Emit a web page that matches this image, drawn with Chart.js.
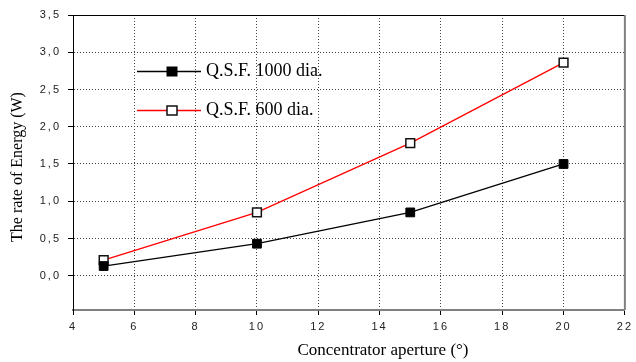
<!DOCTYPE html>
<html>
<head>
<meta charset="utf-8">
<script src="https://cdn.jsdelivr.net/npm/chart.js@4/dist/chart.umd.min.js"></script>
<style>
  html, body { margin: 0; padding: 0; background: #fff; }
  #wrap { width: 636px; height: 362px; }
</style>
</head>
<body>
<div id="wrap"><canvas id="grafico" width="636" height="362"></canvas></div>
<script>
// dados
const aberturas = [5, 10, 15, 20];
const energia1000 = [0.13, 0.43, 0.85, 1.50];
const energia600 = [0.21, 0.85, 1.78, 2.86];
const xTicks = [4, 6, 8, 10, 12, 14, 16, 18, 20, 22];
const yTicks = [0, 0.5, 1, 1.5, 2, 2.5, 3, 3.5];
const nomesSeries = ["Q.S.F. 1000 dia.", "Q.S.F. 600 dia."];
const tituloX = "Concentrator aperture (°)";
const tituloY = "The rate of Energy (W)";

const SERIF = "'Liberation Serif', 'Times New Roman', serif";

// bordas, legenda e títulos dos eixos
const extras = {
  id: "extras",
  beforeDraw(chart) {
    chart.ctx.letterSpacing = "2px";
  },
  beforeDatasetsDraw(chart) {
    chart.ctx.letterSpacing = "0px";
  },
  afterDraw(chart) {
    const ctx = chart.ctx;
    const a = chart.chartArea;
    ctx.save();
    ctx.letterSpacing = "0px";

    // borda de cima
    ctx.strokeStyle = "#000";
    ctx.lineWidth = 1;
    ctx.beginPath();
    ctx.moveTo(a.left, a.top + 0.5);
    ctx.lineTo(a.right, a.top + 0.5);
    ctx.stroke();

    // borda da direita
    ctx.strokeStyle = "#808080";
    ctx.lineWidth = 2;
    ctx.beginPath();
    ctx.moveTo(a.right, a.top);
    ctx.lineTo(a.right, a.bottom);
    ctx.stroke();

    // legenda
    const linhas = [71.5, 110.5];
    chart.data.datasets.forEach((ds, i) => {
      const y = linhas[i];
      ctx.strokeStyle = ds.borderColor;
      ctx.lineWidth = 1.5;
      ctx.beginPath();
      ctx.moveTo(137, y);
      ctx.lineTo(201, y);
      ctx.stroke();
      ctx.fillStyle = ds.pointBackgroundColor;
      ctx.strokeStyle = ds.pointBorderColor;
      ctx.lineWidth = ds.pointBorderWidth;
      ctx.fillRect(167, y - 4.5, 10, 9);
      ctx.strokeRect(167, y - 4.5, 10, 9);
      ctx.fillStyle = "#000";
      ctx.font = "18px " + SERIF;
      ctx.textAlign = "left";
      ctx.textBaseline = "middle";
      ctx.fillText(ds.label, 206, y);
    });

    // títulos dos eixos
    ctx.fillStyle = "#000";
    ctx.font = "17px " + SERIF;
    ctx.textAlign = "center";
    ctx.textBaseline = "middle";
    ctx.fillText(tituloX, 383, 351);

    ctx.font = "16px " + SERIF;
    ctx.translate(18, 167);
    ctx.rotate(-Math.PI / 2);
    ctx.fillText(tituloY, 0, 0);
    ctx.restore();
  }
};

function pontos(ys) {
  return aberturas.map((x, i) => ({ x: x, y: ys[i] }));
}

function corGrade(bordas) {
  return c => (c.tick && bordas.includes(c.tick.value)) ? "rgba(0,0,0,0)" : "#444";
}

new Chart(document.getElementById("grafico"), {
  type: "line",
  data: {
    datasets: [
      {
        label: nomesSeries[0],
        data: pontos(energia1000),
        borderColor: "#000",
        borderWidth: 1.3,
        pointStyle: "rect",
        pointRadius: 6.2,
        pointBackgroundColor: "#000",
        pointBorderColor: "#000",
        pointBorderWidth: 1
      },
      {
        label: nomesSeries[1],
        data: pontos(energia600),
        borderColor: "#ff0000",
        borderWidth: 1.3,
        pointStyle: "rect",
        pointRadius: 6.2,
        pointBackgroundColor: "#fff",
        pointBorderColor: "#111",
        pointBorderWidth: 1.5
      }
    ]
  },
  options: {
    responsive: false,
    animation: false,
    layout: { padding: { top: 15, right: 6, left: 0, bottom: 0 } },
    plugins: {
      legend: { display: false },
      tooltip: { enabled: false }
    },
    scales: {
      x: {
        type: "linear",
        min: 4,
        max: 22,
        afterBuildTicks: s => { s.ticks = xTicks.map(v => ({ value: v })); },
        afterFit: s => { s.height = 52; },
        grid: { color: corGrade([4, 22]), lineWidth: 1, tickLength: 5, tickColor: "#000" },
        border: { color: "#808080", width: 2, dash: [1, 2] },
        ticks: {
          color: "#222",
          padding: 5,
          maxRotation: 0,
          font: { family: "'Liberation Sans', Arial, sans-serif", size: 11 }
        }
      },
      y: {
        min: -0.46,
        max: 3.5,
        afterBuildTicks: s => { s.ticks = yTicks.map(v => ({ value: v })); },
        afterFit: s => { s.width = 73; },
        grid: { color: corGrade([3.5]), lineWidth: 1, tickLength: 5, tickColor: "#000" },
        border: { color: "#000", width: 1, dash: [1, 2] },
        ticks: {
          color: "#222",
          padding: 7,
          font: { family: "'Liberation Sans', Arial, sans-serif", size: 11 },
          callback: v => v.toFixed(1).replace(".", ",")
        }
      }
    }
  },
  plugins: [extras]
});
</script>
</body>
</html>
